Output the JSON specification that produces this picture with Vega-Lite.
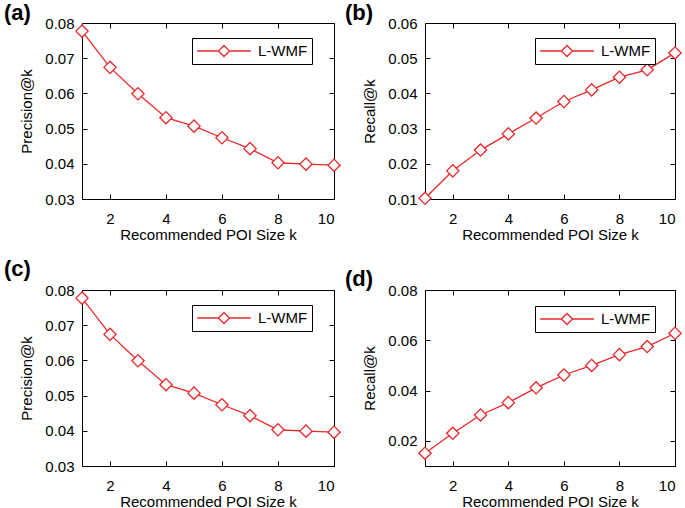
{
  "$schema": "https://vega.github.io/schema/vega-lite/v6.json",
  "background": "white",
  "padding": {"left": 3, "top": 1, "right": 0, "bottom": 0},
  "config": {
    "font": "Liberation Sans",
    "view": {"stroke": "black", "strokeWidth": 1},
    "axis": {"grid": false, "ticks": true, "domain": false, "offset": -5, "tickSize": 5, "tickWidth": 1, "tickColor": "black", "labelColor": "black", "titleColor": "black", "labelFontSize": 15, "titleFontSize": 15, "titleFontWeight": "normal", "labelPadding": 8},
    "axisX": {"labelPadding": 12, "titlePadding": 1},
    "axisY": {"titlePadding": 10},
    "title": {"fontSize": 22, "fontWeight": "bold", "anchor": "start", "frame": "group", "color": "black"}
  },
  "resolve": {"scale": {"stroke": "independent"}, "legend": {"stroke": "independent"}},
  "datasets": {
    "prec": [
      {"k": 1, "v": 0.0777}, {"k": 2, "v": 0.0674}, {"k": 3, "v": 0.0599}, {"k": 4, "v": 0.0531}, {"k": 5, "v": 0.0507},
      {"k": 6, "v": 0.0474}, {"k": 7, "v": 0.0443}, {"k": 8, "v": 0.0403}, {"k": 9, "v": 0.0399}, {"k": 10, "v": 0.0396}
    ],
    "recb": [
      {"k": 1, "v": 0.0102}, {"k": 2, "v": 0.0180}, {"k": 3, "v": 0.0239}, {"k": 4, "v": 0.0285}, {"k": 5, "v": 0.0330},
      {"k": 6, "v": 0.0377}, {"k": 7, "v": 0.0410}, {"k": 8, "v": 0.0446}, {"k": 9, "v": 0.0467}, {"k": 10, "v": 0.0515}
    ],
    "recd": [
      {"k": 1, "v": 0.0151}, {"k": 2, "v": 0.0230}, {"k": 3, "v": 0.0303}, {"k": 4, "v": 0.0352}, {"k": 5, "v": 0.0411},
      {"k": 6, "v": 0.0462}, {"k": 7, "v": 0.0500}, {"k": 8, "v": 0.0543}, {"k": 9, "v": 0.0575}, {"k": 10, "v": 0.0628}
    ]
  },
  "vconcat": [
    {
      "hconcat": [
        {
          "width": 252, "height": 176,
          "title": {"text": "(a)", "dx": -78, "offset": -9},
          "data": {"name": "prec"},
          "layer": [
            {"mark": {"type": "line", "color": "#e8282a", "strokeWidth": 1.3},
             "encoding": {
               "x": {"field": "k", "type": "quantitative", "scale": {"domain": [1, 10], "nice": false}, "axis": {"values": [2, 4, 6, 8, 10], "title": "Recommended POI Size k"}},
               "y": {"field": "v", "type": "quantitative", "scale": {"domain": [0.03, 0.08], "nice": false}, "axis": {"values": [0.03, 0.04, 0.05, 0.06, 0.07, 0.08], "format": ".2f", "title": "Precision@k"}}
             }},
            {"mark": {"type": "point", "shape": "diamond", "filled": true, "fill": "white", "size": 150, "strokeWidth": 1.3, "opacity": 1},
             "encoding": {
               "x": {"field": "k", "type": "quantitative", "axis": {"orient": "top", "values": [2, 4, 6, 8, 10], "labels": false, "title": null}},
               "y": {"field": "v", "type": "quantitative", "axis": {"orient": "right", "values": [0.03, 0.04, 0.05, 0.06, 0.07, 0.08], "labels": false, "title": null}},
               "stroke": {"datum": "L-WMF", "scale": {"range": ["#e8282a"]}, "legend": {"orient": "none", "legendX": 110, "legendY": 15, "title": null, "symbolType": "M-3.4,0H-0.7M0.7,0H3.4M0,-0.7L0.7,0L0,0.7L-0.7,0Z", "symbolSize": 250, "symbolStrokeWidth": 1.3, "symbolFillColor": "white", "symbolOffset": 19, "labelOffset": 25, "labelFontSize": 15, "labelColor": "black", "strokeColor": "black", "fillColor": "white", "padding": 4}}
             }}
          ],
          "resolve": {"axis": {"x": "independent", "y": "independent"}}
        },
        {
          "width": 250, "height": 176,
          "title": {"text": "(b)", "dx": -80, "offset": -9},
          "data": {"name": "recb"},
          "layer": [
            {"mark": {"type": "line", "color": "#e8282a", "strokeWidth": 1.3},
             "encoding": {
               "x": {"field": "k", "type": "quantitative", "scale": {"domain": [1, 10], "nice": false}, "axis": {"values": [2, 4, 6, 8, 10], "title": "Recommended POI Size k"}},
               "y": {"field": "v", "type": "quantitative", "scale": {"domain": [0.01, 0.06], "nice": false}, "axis": {"values": [0.01, 0.02, 0.03, 0.04, 0.05, 0.06], "format": ".2f", "title": "Recall@k"}}
             }},
            {"mark": {"type": "point", "shape": "diamond", "filled": true, "fill": "white", "size": 150, "strokeWidth": 1.3, "opacity": 1},
             "encoding": {
               "x": {"field": "k", "type": "quantitative", "axis": {"orient": "top", "values": [2, 4, 6, 8, 10], "labels": false, "title": null}},
               "y": {"field": "v", "type": "quantitative", "axis": {"orient": "right", "values": [0.01, 0.02, 0.03, 0.04, 0.05, 0.06], "labels": false, "title": null}},
               "stroke": {"datum": "L-WMF", "scale": {"range": ["#e8282a"]}, "legend": {"orient": "none", "legendX": 110, "legendY": 15, "title": null, "symbolType": "M-3.4,0H-0.7M0.7,0H3.4M0,-0.7L0.7,0L0,0.7L-0.7,0Z", "symbolSize": 250, "symbolStrokeWidth": 1.3, "symbolFillColor": "white", "symbolOffset": 19, "labelOffset": 25, "labelFontSize": 15, "labelColor": "black", "strokeColor": "black", "fillColor": "white", "padding": 4}}
             }}
          ],
          "resolve": {"axis": {"x": "independent", "y": "independent"}}
        }
      ],
      "spacing": 0,
      "resolve": {"scale": {"stroke": "independent"}, "legend": {"stroke": "independent"}}
    },
    {
      "hconcat": [
        {
          "width": 252, "height": 176,
          "title": {"text": "(c)", "dx": -78, "offset": 2},
          "data": {"name": "prec"},
          "layer": [
            {"mark": {"type": "line", "color": "#e8282a", "strokeWidth": 1.3},
             "encoding": {
               "x": {"field": "k", "type": "quantitative", "scale": {"domain": [1, 10], "nice": false}, "axis": {"values": [2, 4, 6, 8, 10], "title": "Recommended POI Size k"}},
               "y": {"field": "v", "type": "quantitative", "scale": {"domain": [0.03, 0.08], "nice": false}, "axis": {"values": [0.03, 0.04, 0.05, 0.06, 0.07, 0.08], "format": ".2f", "title": "Precision@k"}}
             }},
            {"mark": {"type": "point", "shape": "diamond", "filled": true, "fill": "white", "size": 150, "strokeWidth": 1.3, "opacity": 1},
             "encoding": {
               "x": {"field": "k", "type": "quantitative", "axis": {"orient": "top", "values": [2, 4, 6, 8, 10], "labels": false, "title": null}},
               "y": {"field": "v", "type": "quantitative", "axis": {"orient": "right", "values": [0.03, 0.04, 0.05, 0.06, 0.07, 0.08], "labels": false, "title": null}},
               "stroke": {"datum": "L-WMF", "scale": {"range": ["#e8282a"]}, "legend": {"orient": "none", "legendX": 110, "legendY": 15, "title": null, "symbolType": "M-3.4,0H-0.7M0.7,0H3.4M0,-0.7L0.7,0L0,0.7L-0.7,0Z", "symbolSize": 250, "symbolStrokeWidth": 1.3, "symbolFillColor": "white", "symbolOffset": 19, "labelOffset": 25, "labelFontSize": 15, "labelColor": "black", "strokeColor": "black", "fillColor": "white", "padding": 4}}
             }}
          ],
          "resolve": {"axis": {"x": "independent", "y": "independent"}}
        },
        {
          "width": 250, "height": 176,
          "title": {"text": "(d)", "dx": -80, "offset": -8},
          "data": {"name": "recd"},
          "layer": [
            {"mark": {"type": "line", "color": "#e8282a", "strokeWidth": 1.3},
             "encoding": {
               "x": {"field": "k", "type": "quantitative", "scale": {"domain": [1, 10], "nice": false}, "axis": {"values": [2, 4, 6, 8, 10], "title": "Recommended POI Size k"}},
               "y": {"field": "v", "type": "quantitative", "scale": {"domain": [0.01, 0.08], "nice": false}, "axis": {"values": [0.02, 0.04, 0.06, 0.08], "format": ".2f", "title": "Recall@k"}}
             }},
            {"mark": {"type": "point", "shape": "diamond", "filled": true, "fill": "white", "size": 150, "strokeWidth": 1.3, "opacity": 1},
             "encoding": {
               "x": {"field": "k", "type": "quantitative", "axis": {"orient": "top", "values": [2, 4, 6, 8, 10], "labels": false, "title": null}},
               "y": {"field": "v", "type": "quantitative", "axis": {"orient": "right", "values": [0.02, 0.04, 0.06, 0.08], "labels": false, "title": null}},
               "stroke": {"datum": "L-WMF", "scale": {"range": ["#e8282a"]}, "legend": {"orient": "none", "legendX": 110, "legendY": 16, "title": null, "symbolType": "M-3.4,0H-0.7M0.7,0H3.4M0,-0.7L0.7,0L0,0.7L-0.7,0Z", "symbolSize": 250, "symbolStrokeWidth": 1.3, "symbolFillColor": "white", "symbolOffset": 19, "labelOffset": 25, "labelFontSize": 15, "labelColor": "black", "strokeColor": "black", "fillColor": "white", "padding": 4}}
             }}
          ],
          "resolve": {"axis": {"x": "independent", "y": "independent"}}
        }
      ],
      "spacing": 0,
      "resolve": {"scale": {"stroke": "independent"}, "legend": {"stroke": "independent"}}
    }
  ],
  "spacing": 14
}
